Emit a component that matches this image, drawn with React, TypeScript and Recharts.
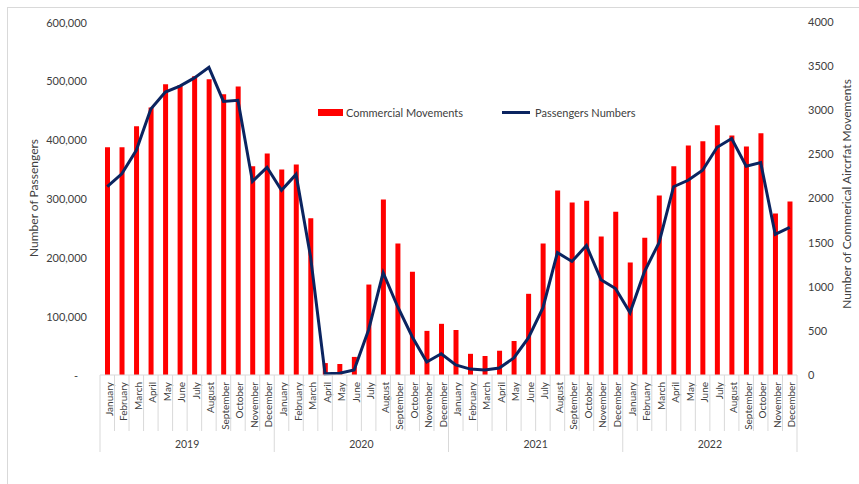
import React from "react";
import { ComposedChart, Bar, Line, XAxis, YAxis } from "recharts";

const months = [
  "January", "February", "March", "April", "May", "June",
  "July", "August", "September", "October", "November", "December",
];
const years = ["2019", "2020", "2021", "2022"];

// Commercial aircraft movements (right axis)
const movements = [
  2580, 2580, 2820, 3030, 3295, 3285, 3385, 3350, 3180, 3270, 2365, 2510,
  2330, 2385, 1775, 135, 125, 205, 1025, 1990, 1490, 1170, 500, 580,
  510, 240, 215, 275, 385, 920, 1490, 2090, 1955, 1975, 1570, 1850,
  1275, 1555, 2035, 2365, 2600, 2650, 2830, 2715, 2590, 2740, 1830, 1965,
];

// Passenger numbers (left axis)
const passengers = [
  320000, 342000, 382000, 452000, 481000, 491000, 505000, 523000, 465000, 467000, 329000, 353000,
  314000, 341000, 201000, 2000, 3000, 8500, 77000, 174000, 116000, 65000, 22000, 36000,
  17000, 10000, 8500, 12000, 29000, 63000, 114000, 208000, 193000, 220000, 162000, 147000,
  106000, 176000, 225000, 320000, 331000, 348000, 387000, 402000, 355000, 361000, 239000, 251000,
];

const leftTicks = [0, 100000, 200000, 300000, 400000, 500000, 600000];
const rightTicks = [0, 500, 1000, 1500, 2000, 2500, 3000, 3500, 4000];

const data = movements.map((m, i) => ({
  key: `${years[Math.floor(i / 12)]}-${i % 12}`,
  month: months[i % 12],
  year: years[Math.floor(i / 12)],
  movements: m,
  passengers: passengers[i],
}));

const W = 859;
const H = 484;
const PLOT_LEFT = 100;
const PLOT_RIGHT = 797;
const AXIS_Y = 375;
const BAND = (PLOT_RIGHT - PLOT_LEFT) / data.length;
const FONT = "Lato, 'Open Sans', sans-serif";
const TEXT = "#404040";
const GRID = "#d9d9d9";

const MonthTick = ({ x, payload }: any) => {
  const i = payload.index;
  const left = x - BAND / 2;
  const d = data[i];
  return (
    <g>
      <line x1={left} x2={left} y1={AXIS_Y} y2={i % 12 === 0 ? 452 : 431} stroke={GRID} />
      {i === data.length - 1 && (
        <line x1={left + BAND} x2={left + BAND} y1={AXIS_Y} y2={452} stroke={GRID} />
      )}
      <text
        transform={`translate(${x + 1.5},382) rotate(-90)`}
        textAnchor="end"
        dominantBaseline="central"
        fontSize={10}
        fontFamily={FONT}
        fill={TEXT}
      >
        {d.month}
      </text>
      {i % 12 === 0 && (
        <text
          x={left + 6 * BAND}
          y={448}
          textAnchor="middle"
          fontSize={10.5}
          fontFamily={FONT}
          fill={TEXT}
        >
          {d.year}
        </text>
      )}
    </g>
  );
};

const LeftTick = ({ x, y, payload }: any) => {
  const v = payload.value as number;
  return (
    <text
      x={v === 0 ? x - 9 : x}
      y={y}
      textAnchor="end"
      dominantBaseline="central"
      fontSize={11}
      fontFamily={FONT}
      fill={TEXT}
    >
      {v === 0 ? "-" : v.toLocaleString("en-US")}
    </text>
  );
};

const App = () => {
  return (
    <div style={{ position: "absolute", left: 0, top: 0, width: W, height: H, overflow: "hidden", background: "#fff" }}>
      <div
        style={{
          position: "absolute",
          left: 7,
          top: 7,
          width: 880,
          height: 500,
          border: `1px solid ${GRID}`,
        }}
      />
      <div style={{ position: "absolute", left: 0, top: 0 }}>
        <ComposedChart
          width={W}
          height={H}
          data={data}
          margin={{ top: 22, right: 12, left: 40, bottom: 0 }}
          barCategoryGap={0}
        >
          <XAxis
            dataKey="key"
            interval={0}
            height={109}
            tickLine={false}
            axisLine={{ stroke: GRID }}
            tick={<MonthTick />}
          />
          <YAxis
            yAxisId="left"
            orientation="left"
            width={60}
            domain={[0, 600000]}
            ticks={leftTicks}
            axisLine={false}
            tickLine={false}
            tickSize={0}
            tickMargin={13}
            tick={<LeftTick />}
          />
          <YAxis
            yAxisId="right"
            orientation="right"
            width={50}
            domain={[0, 4000]}
            ticks={rightTicks}
            axisLine={false}
            tickLine={false}
            tickSize={0}
            tickMargin={11}
            tick={{ fontSize: 11, fontFamily: FONT, fill: TEXT }}
          />
          <Bar
            yAxisId="right"
            dataKey="movements"
            name="Commercial Movements"
            fill="#FF0000"
            barSize={5}
            isAnimationActive={false}
          />
          <Line
            yAxisId="left"
            type="linear"
            dataKey="passengers"
            name="Passengers Numbers"
            stroke="#0B2460"
            strokeWidth={3}
            dot={false}
            activeDot={false}
            isAnimationActive={false}
          />
        </ComposedChart>
      </div>
      {/* axis titles */}
      <div
        style={{
          position: "absolute",
          left: 33,
          top: 198,
          transform: "translate(-50%, -50%) rotate(-90deg)",
          whiteSpace: "nowrap",
          fontSize: 12,
          fontFamily: FONT,
          color: TEXT,
        }}
      >
        Number of Passengers
      </div>
      <div
        style={{
          position: "absolute",
          left: 846,
          top: 194,
          transform: "translate(-50%, -50%) rotate(-90deg)",
          whiteSpace: "nowrap",
          fontSize: 12,
          fontFamily: FONT,
          color: TEXT,
        }}
      >
        Number of Commerical Aircrfat Movements
      </div>
      {/* legend */}
      <div
        style={{
          position: "absolute",
          left: 318,
          top: 106,
          display: "flex",
          alignItems: "center",
          fontSize: 11,
          fontFamily: FONT,
          color: TEXT,
          whiteSpace: "nowrap",
        }}
      >
        <span style={{ display: "inline-block", width: 25, height: 7, background: "#FF0000", marginRight: 3 }} />
        <span>Commercial Movements</span>
        <span style={{ display: "inline-block", width: 28, height: 3, background: "#0B2460", marginLeft: 39, marginRight: 5 }} />
        <span>Passengers Numbers</span>
      </div>
    </div>
  );
};

export default App;
